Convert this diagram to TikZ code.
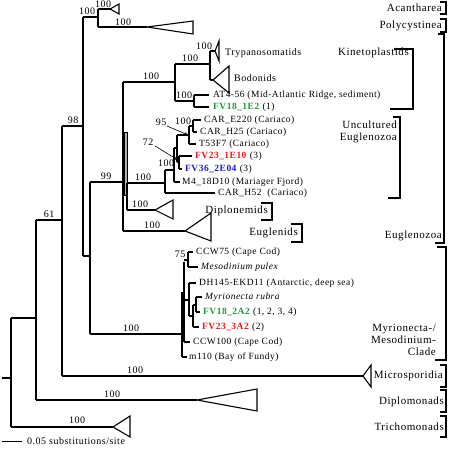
\documentclass[tikz,border=0pt]{standalone}
\usepackage{fontspec}
\setmainfont{Liberation Serif}[LetterSpace=5]
\usetikzlibrary{arrows.meta}
\definecolor{fvgreen}{RGB}{34,150,60}
\definecolor{fvred}{RGB}{225,30,35}
\definecolor{fvblue}{RGB}{30,30,200}
\newcommand\leaffont{\fontsize{9.5}{11}\selectfont}
\newcommand\bsfont{\fontsize{10}{11}\selectfont}
\newcommand\grpfont{\fontsize{11}{13}\selectfont}
\begin{document}
\begin{tikzpicture}[x=1pt,y=-1pt,
  tl/.style={line width=1.1pt},
  tri/.style={line width=1.1pt, line join=miter},
  lf/.style={anchor=west, inner sep=0pt, font=\leaffont},
  bs/.style={inner sep=0pt, font=\bsfont},
  grp/.style={anchor=east, inner sep=0pt, font=\grpfont, align=right},
  brk/.style={line width=1.1pt},
  pointer/.style={line width=0.6pt, -{Stealth[length=4pt,width=3pt]}}]
\useasboundingbox (0,0) rectangle (448,449);
% ---------- backbone ----------
\draw[tl] (2,378)--(11,378);
\draw[tl] (11,318)--(11,427);
\draw[tl] (11,427)--(113,427);
\draw[tri] (113,427)--(130,416)--(130,437)--cycle;
\node[bs] at (77,420) {100};
\draw[tl] (11,318)--(36,318);
\draw[tl] (36,220)--(36,400);
\draw[tl] (36,400)--(197,400);
\draw[tri] (197,400)--(257,389)--(257,411)--cycle;
\node[bs] at (112,394) {100};
\draw[tl] (36,220)--(62,220);
\node[bs] at (49,214) {61};
\draw[tl] (62,126)--(62,376);
\draw[tl] (62,376)--(363,376);
\draw[tri] (363,376)--(371,365)--(371,387)--cycle;
\node[bs] at (135,370) {100};
\draw[tl] (62,126)--(83,126);
\node[bs] at (73,120) {98};
\draw[tl] (83,17)--(83,256);
% radiolaria
\draw[tl] (83,17)--(98,17);
\node[bs] at (87,11) {100};
\draw[tl] (98,9)--(98,27);
\draw[tl] (98,9)--(110,9);
\draw[tri] (110,9)--(119,4)--(119,14)--cycle;
\node[bs] at (103,4) {100};
\draw[tl] (98,27)--(147,27);
\draw[tri] (147,27)--(193,21)--(193,34)--cycle;
\node[bs] at (123,22) {100};
% lower part
\draw[tl] (83,256)--(90,256);
\draw[tl] (90,182)--(90,334);
\draw[tl] (90,334)--(182,334);
\node[bs] at (131,328) {100};
\draw[tl] (90,182)--(123,182);
\node[bs] at (106,176) {99};
% ---------- Euglenozoa ----------
\draw[tl] (123,82)--(123,231);
\draw[tl] (123,231)--(185,231);
\draw[tri] (185,231)--(211,213)--(211,241)--cycle;
\node[bs] at (152,225) {100};
\draw[line width=0.6pt, fill=gray!60] (124,132) rectangle (127,195);
\draw[tl] (127,183)--(127,210);
\draw[tl] (127,183)--(165,183);
\node[bs] at (143,177) {100};
\draw[tl] (127,210)--(155,210);
\draw[tri] (155,210)--(173,200)--(173,219)--cycle;
\node[bs] at (140,204) {100};
% kinetoplastids
\draw[tl] (123,82)--(175,82);
\node[bs] at (151,76) {100};
\draw[tl] (175,64)--(175,101);
\draw[tl] (175,64)--(210,64);
\node[bs] at (190,58) {100};
\draw[tl] (210,51)--(210,80);
\draw[tl] (210,51)--(215,51);
\draw[tri] (215,51)--(219,41)--(219,61)--cycle;
\node[bs] at (204,46) {100};
\draw[tl] (210,80)--(213,80);
\draw[tri] (213,80)--(229,66)--(229,93)--cycle;
\draw[tl] (175,101)--(194,101);
\node[bs] at (184,95) {100};
\draw[tl] (194,95)--(194,107);
\draw[tl] (194,95)--(209,95);
\draw[tl] (194,107)--(209,107);
% uncultured
\draw[tl] (165,170)--(165,193);
\draw[tl] (165,193)--(215,193);
\draw[tl] (165,170)--(174,170);
\node[bs] at (166,163) {100};
\draw[tl] (174,148)--(174,182);
\draw[tl] (174,182)--(180,182);
\draw[tl] (174,148)--(177,148);
\draw[tl] (177,135)--(177,162);
\draw[tl] (177,135)--(189,135);
\draw[tl] (189,126)--(189,144);
\draw[tl] (189,144)--(196,144);
\draw[tl] (189,126)--(193,126);
\draw[tl] (193,120)--(193,132);
\draw[tl] (193,120)--(201,120);
\draw[tl] (193,132)--(197,132);
\node[bs] at (183,121) {100};
\draw[tl] (177,162)--(179,162);
\draw[tl] (179,156)--(179,169);
\draw[tl] (179,156)--(192,156);
\draw[tl] (179,169)--(182,169);
\node[bs] (l72) at (148,142) {72};
\draw[pointer] (155,146)--(178,160);
\node[bs] (l95) at (161,122) {95};
\draw[pointer] (167,126)--(188,135);
% ---------- Myrionecta clade ----------
\draw[tl] (182,292)--(182,357);
\draw[tl] (182,357)--(187,357);
\draw[tl] (184,262)--(184,342);
\draw[tl] (184,342)--(190,342);
\draw[tl] (184,260)--(188,260);
\draw[tl] (188,252)--(188,267);
\draw[tl] (188,252)--(193,252);
\draw[tl] (188,267)--(198,267);
\node[bs] at (180,254) {75};
\draw[tl] (184,300)--(189,300);
\draw[tl] (189,283)--(189,316);
\draw[tl] (189,283)--(196,283);
\draw[tl] (189,316)--(193,316);
\draw[tl] (193,305)--(193,327);
\draw[tl] (193,327)--(199,327);
\draw[tl] (193,305)--(196,305);
\draw[tl] (196,297)--(196,312);
\draw[tl] (196,297)--(202,297);
\draw[tl] (196,312)--(200,312);
% ---------- leaf labels ----------
\node[lf, font=\fontsize{10}{11}\selectfont] at (225,53) {Trypanosomatids};
\node[lf, font=\fontsize{10}{11}\selectfont] at (234,78) {Bodonids};
\node[lf] at (213,95) {AT4-56 (Mid-Atlantic Ridge, sediment)};
\node[lf] at (213,107) {\textcolor{fvgreen}{\textbf{FV18\_1E2}} (1)};
\node[lf] at (204,120) {CAR\_E220 (Cariaco)};
\node[lf] at (200,132) {CAR\_H25 (Cariaco)};
\node[lf] at (199,144) {T53F7 (Cariaco)};
\node[lf] at (195,156) {\textcolor{fvred}{\textbf{FV23\_1E10}} (3)};
\node[lf] at (185,169) {\textcolor{fvblue}{\textbf{FV36\_2E04}} (3)};
\node[lf] at (182,182) {M4\_18D10 (Mariager Fjord)};
\node[lf] at (218,193) {CAR\_H52~ (Cariaco)};
\node[lf] at (196,252) {CCW75 (Cape Cod)};
\node[lf] at (201,267) {\textit{Mesodinium pulex}};
\node[lf] at (199,283) {DH145-EKD11 (Antarctic, deep sea)};
\node[lf] at (205,297) {\textit{Myrionecta rubra}};
\node[lf] at (203,312) {\textcolor{fvgreen}{\textbf{FV18\_2A2}} (1, 2, 3, 4)};
\node[lf] at (202,327) {\textcolor{fvred}{\textbf{FV23\_3A2}} (2)};
\node[lf] at (193,342) {CCW100 (Cape Cod)};
\node[lf] at (189,357) {m110 (Bay of Fundy)};
% ---------- group labels and brackets ----------
\node[grp] at (442,8) {Acantharea};
\draw[brk] (440,2)--(446,2)--(446,14)--(440,14);
\node[grp] at (442,26) {Polycystinea};
\draw[brk] (440,19)--(446,19)--(446,32)--(440,32);
\node[grp] at (409,53) {Kinetoplastids};
\draw[brk] (394,49)--(413,49)--(413,109)--(390,109);
\node[grp] at (397,132) {Uncultured\\[-1pt]Euglenozoa};
\draw[brk] (393,117)--(400,117)--(400,198)--(388,198);
\node[grp] at (268,211) {Diplonemids};
\draw[brk] (261,203)--(272,203)--(272,220)--(261,220);
\node[grp] at (298,233) {Euglenids};
\draw[brk] (291,224)--(302,224)--(302,242)--(291,242);
\node[grp] at (442,236) {Euglenozoa};
\draw[brk] (438,34)--(444,34)--(444,243)--(435,243);
\node[grp] at (436,340) {Myrionecta-/\\[-1pt]Mesodinium-\\[-1pt]Clade};
\draw[brk] (437,247)--(446,247)--(446,360)--(435,360);
\node[grp] at (443,376) {Microsporidia};
\draw[brk] (440,365)--(446,365)--(446,387)--(440,387);
\node[grp] at (444,402) {Diplomonads};
\draw[brk] (440,390)--(446,390)--(446,412)--(440,412);
\node[grp] at (444,427) {Trichomonads};
\draw[brk] (440,416)--(446,416)--(446,437)--(440,437);
% ---------- scale bar ----------
\coordinate (sb1) at (2,441);
\coordinate (sb2) at (22,441);
\draw[line width=1pt] (sb1)--(sb2);
\node[anchor=west, inner sep=0pt, font=\bsfont] at (27,441) {0.05 substitutions/site};
\end{tikzpicture}
\end{document}
